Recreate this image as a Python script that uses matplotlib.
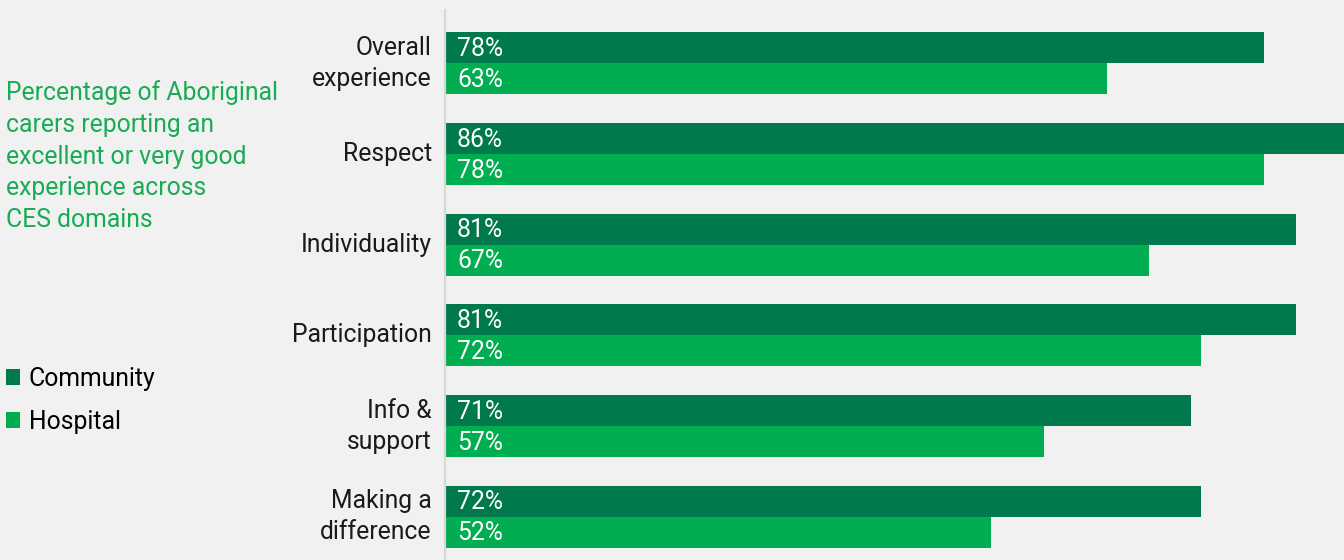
import matplotlib
matplotlib.use("Agg")
import matplotlib.pyplot as plt
import numpy as np

categories = ["Overall\nexperience", "Respect", "Individuality", "Participation",
              "Info &\nsupport", "Making a\ndifference"]
community = [78, 86, 81, 81, 71, 72]
hospital = [63, 78, 67, 72, 57, 52]
series_names = ["Community", "Hospital"]
title = ("Percentage of Aboriginal\ncarers reporting an\nexcellent or very good\n"
         "experience across\nCES domains")

BG = "#f0f1f0"
DARK = "#007a4c"
LIGHT = "#00ad50"
TITLE_GREEN = "#1aab55"

plt.rcParams["font.family"] = ["Roboto", "DejaVu Sans"]

W, H = 1344, 560
fig = plt.figure(figsize=(W / 100, H / 100), dpi=100, facecolor=BG)

# axes placed in pixel terms: left edge 445, top 10, bottom 560
ax = fig.add_axes([445 / W, 0 / H, (W - 445) / W, 550 / H])
ax.set_facecolor(BG)

y = np.arange(len(categories))
h = 0.342
b1 = ax.barh(y - h / 2, community, height=h, color=DARK, label=series_names[0])
b2 = ax.barh(y + h / 2, hospital, height=h, color=LIGHT, label=series_names[1])

ax.set_xlim(0, 85.6)
ax.set_ylim(5.476, -0.588)

for bars, vals in ((b1, community), (b2, hospital)):
    for rect, v in zip(bars, vals):
        ax.annotate(f"{v}%", xy=(0, rect.get_y() + rect.get_height() / 2),
                    xytext=(12, -1), textcoords="offset pixels",
                    ha="left", va="center", color="white", fontsize=17.8)

ax.set_yticks(y)
ax.set_yticklabels(categories, fontsize=17.8, color="#1a1a1a", linespacing=1.38,
                   va="center")
ax.tick_params(axis="y", length=0, pad=9.5)
ax.set_xticks([])
for s in ("top", "right", "bottom"):
    ax.spines[s].set_visible(False)
ax.spines["left"].set_color("#d6d8d6")
ax.spines["left"].set_linewidth(1.6)

fig.text(6 / W, 1 - 80 / H, title, ha="left", va="top", fontsize=17.8,
         color=TITLE_GREEN, linespacing=1.41)

fig.legend(handles=[b1, b2], labels=series_names, loc="upper left",
           bbox_to_anchor=(2 / W, 1 - 363 / H), frameon=False, fontsize=17.8,
           handlelength=0.58, handleheight=0.58, handletextpad=0.35,
           labelspacing=0.77, borderpad=0.15, borderaxespad=0)

fig.savefig("out.png", dpi=100, facecolor=BG)
